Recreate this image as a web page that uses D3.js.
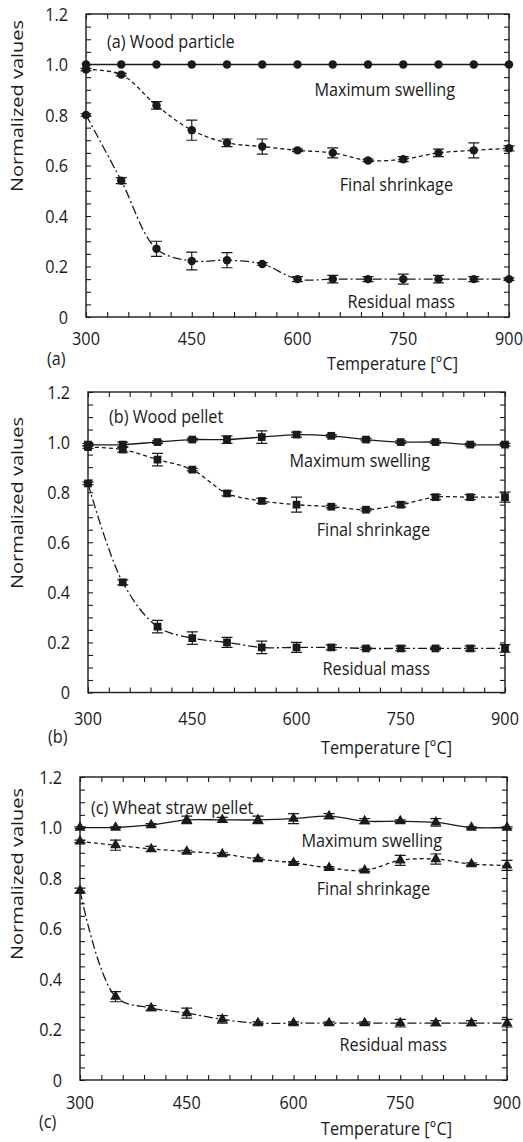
<!DOCTYPE html>
<meta charset="utf-8">
<style>
body { margin: 0; background: #fff; }
svg text { font-family: "Open Sans", sans-serif; fill: #1a1a1a; }
</style>
<body>
<div id="chart"></div>
<script src="https://d3js.org/d3.v7.min.js"></script>
<script>

// temperatures (°C)
const temps = [300, 350, 400, 450, 500, 550, 600, 650, 700, 750, 800, 850, 900];

// (a) wood particle
const swellA    = [1, 1, 1, 1, 1, 1, 1, 1, 1, 1, 1, 1, 1];
const swellAErr = [0, 0, 0, 0, 0, 0, 0, 0, 0, 0, 0, 0, 0];
const shrinkA    = [0.98, 0.96, 0.838, 0.74, 0.69, 0.675, 0.66, 0.65, 0.62, 0.625, 0.65, 0.66, 0.668];
const shrinkAErr = [0.005, 0.005, 0.015, 0.04, 0.015, 0.03, 0.005, 0.02, 0.005, 0.01, 0.015, 0.03, 0.01];
const residA    = [0.80, 0.54, 0.27, 0.222, 0.225, 0.21, 0.15, 0.15, 0.15, 0.15, 0.15, 0.15, 0.15];
const residAErr = [0.005, 0.012, 0.03, 0.035, 0.03, 0.005, 0.01, 0.015, 0.01, 0.02, 0.015, 0.01, 0.005];

// (b) wood pellet
const swellB    = [0.99, 0.99, 1.0, 1.01, 1.01, 1.02, 1.03, 1.025, 1.01, 1.0, 1.0, 0.99, 0.99];
const swellBErr = [0.005, 0.01, 0.005, 0.005, 0.015, 0.025, 0.01, 0.005, 0.005, 0.005, 0.005, 0.005, 0.005];
const shrinkB    = [0.98, 0.97, 0.93, 0.89, 0.795, 0.765, 0.75, 0.742, 0.73, 0.75, 0.78, 0.78, 0.78];
const shrinkBErr = [0.005, 0.01, 0.025, 0.005, 0.01, 0.01, 0.03, 0.005, 0.005, 0.01, 0.01, 0.01, 0.02];
const residB    = [0.835, 0.44, 0.263, 0.217, 0.2, 0.18, 0.18, 0.18, 0.176, 0.176, 0.176, 0.176, 0.176];
const residBErr = [0.005, 0.01, 0.025, 0.025, 0.02, 0.025, 0.02, 0.01, 0.005, 0.01, 0.005, 0.01, 0.015];

// (c) wheat straw pellet
const swellC    = [1.0, 1.0, 1.01, 1.03, 1.03, 1.03, 1.035, 1.045, 1.025, 1.025, 1.02, 1.0, 1.0];
const swellCErr = [0.003, 0.003, 0.005, 0.015, 0.01, 0.015, 0.02, 0.01, 0.01, 0.005, 0.015, 0.003, 0.003];
const shrinkC    = [0.945, 0.93, 0.915, 0.905, 0.895, 0.875, 0.86, 0.84, 0.83, 0.87, 0.875, 0.855, 0.85];
const shrinkCErr = [0.005, 0.02, 0.01, 0.005, 0.005, 0.005, 0.005, 0.005, 0.005, 0.02, 0.02, 0.005, 0.02];
const residC    = [0.75, 0.33, 0.285, 0.265, 0.24, 0.225, 0.225, 0.225, 0.225, 0.225, 0.225, 0.225, 0.225];
const residCErr = [0.01, 0.02, 0.01, 0.02, 0.015, 0.005, 0.005, 0.005, 0.005, 0.015, 0.01, 0.01, 0.015];

// tick labels
const xTickVals = [300, 450, 600, 750, 900];
const yTickVals = [0, 0.2, 0.4, 0.6, 0.8, 1.0, 1.2];
const yTickText = ["0", "0.2", "0.4", "0.6", "0.8", "1.0", "1.2"];
const seriesNames = ["Maximum swelling", "Final shrinkage", "Residual mass"];

const W = 523, H = 1142;
const ink = "#1a1a1a";
const squeeze = 0.9;   // the original figure is slightly narrowed

const svg = d3.select("#chart").append("svg")
  .attr("width", W).attr("height", H);

const panels = [
  { tag: "(a)", title: "(a) Wood particle", marker: "circle",
    box: {left: 86, right: 509, top: 14, bottom: 317},
    series: [[swellA, swellAErr], [shrinkA, shrinkAErr], [residA, residAErr]],
    labels: [[455, 89], [453, 184], [455, 301]],
    titlePos: [107, 41], yTitleY: 106, tickY: 338, tagPos: [47, 358], tempPos: [458, 363] },
  { tag: "(b)", title: "(b) Wood pellet", marker: "square",
    box: {left: 88, right: 505, top: 392, bottom: 692.5},
    series: [[swellB, swellBErr], [shrinkB, shrinkBErr], [residB, residBErr]],
    labels: [[430, 460], [430, 529], [430, 668]],
    titlePos: [109, 416], yTitleY: 503, tickY: 718, tagPos: [48, 736], tempPos: [452, 747] },
  { tag: "(c)", title: "(c) Wheat straw pellet", marker: "triangle",
    box: {left: 80, right: 507, top: 777, bottom: 1080},
    series: [[swellC, swellCErr], [shrinkC, shrinkCErr], [residC, residCErr]],
    labels: [[442, 840], [430, 888], [447, 1044]],
    titlePos: [91, 807], yTitleY: 874, tickY: 1102, tagPos: [39, 1121], tempPos: [452, 1128] }
];

const dashes = [null, "4,3", "9,3,2,3"];

function addText(g, str, x, y, anchor, size) {
  return g.append("text")
    .attr("transform", `translate(${x},${y}) scale(${squeeze},1)`)
    .attr("text-anchor", anchor)
    .attr("dominant-baseline", "central")
    .attr("font-size", size || 18)
    .text(str);
}

panels.forEach(p => {
  const b = p.box;
  const g = svg.append("g");

  const x = d3.scaleLinear().domain([300, 900]).range([b.left, b.right]);
  const y = d3.scaleLinear().domain([0, 1.2]).range([b.bottom, b.top]);

  // inward minor ticks on all four sides
  const xMinor = d3.range(300, 901, 30);
  const yMinor = d3.range(0, 1.2001, 0.05);
  const tk = 5;
  g.append("g").attr("transform", `translate(0,${b.bottom})`)
    .call(d3.axisBottom(x).tickValues(xMinor).tickSize(-tk).tickFormat(""));
  g.append("g").attr("transform", `translate(0,${b.top})`)
    .call(d3.axisTop(x).tickValues(xMinor).tickSize(-tk).tickFormat(""));
  g.append("g").attr("transform", `translate(${b.left},0)`)
    .call(d3.axisLeft(y).tickValues(yMinor).tickSize(-tk).tickFormat(""));
  g.append("g").attr("transform", `translate(${b.right},0)`)
    .call(d3.axisRight(y).tickValues(yMinor).tickSize(-tk).tickFormat(""));
  g.selectAll(".domain").remove();
  g.selectAll(".tick line").attr("stroke", ink).attr("stroke-width", 1.1);

  g.append("rect")
    .attr("x", b.left).attr("y", b.top)
    .attr("width", b.right - b.left).attr("height", b.bottom - b.top)
    .attr("fill", "none").attr("stroke", ink).attr("stroke-width", 1.4);

  // tick labels
  yTickVals.forEach((v, i) => addText(g, yTickText[i], b.left - 18, y(v), "end"));
  xTickVals.forEach(v => addText(g, v, x(v), p.tickY, "middle"));

  // axis titles and tags
  g.append("text")
    .attr("transform", `translate(16,${p.yTitleY}) scale(0.85,1) rotate(-90)`)
    .attr("text-anchor", "middle")
    .attr("dominant-baseline", "central")
    .attr("font-size", 20)
    .text("Normalized values");
  addText(g, "Temperature [\u00B0C]", p.tempPos[0], p.tempPos[1], "end");
  addText(g, p.tag, p.tagPos[0], p.tagPos[1], "start");
  addText(g, p.title, p.titlePos[0], p.titlePos[1], "start");

  const line = d3.line()
    .x((d, i) => x(temps[i]))
    .y(d => y(d))
    .curve(d3.curveCatmullRom.alpha(0.5));

  p.series.forEach(([vals, errs], si) => {
    const sg = g.append("g");
    sg.append("path")
      .attr("d", line(vals))
      .attr("fill", "none")
      .attr("stroke", ink)
      .attr("stroke-width", 1.3)
      .attr("stroke-dasharray", dashes[si]);

    // error bars
    const cap = 5.5;
    vals.forEach((v, i) => {
      if (!errs[i]) return;
      const cx = x(temps[i]);
      const y1 = y(v + errs[i]), y2 = y(v - errs[i]);
      sg.append("path")
        .attr("d", `M${cx},${y1}V${y2}M${cx - cap},${y1}H${cx + cap}M${cx - cap},${y2}H${cx + cap}`)
        .attr("stroke", ink).attr("stroke-width", 1.2).attr("fill", "none");
    });

    // markers
    const sym = p.marker === "circle" ? d3.symbolCircle
      : p.marker === "square" ? d3.symbolSquare : d3.symbolTriangle;
    const size = p.marker === "circle" ? 56 : p.marker === "square" ? 60 : 52;
    sg.selectAll("path.m")
      .data(vals)
      .join("path")
      .attr("class", "m")
      .attr("transform", (d, i) => `translate(${x(temps[i])},${y(d)})`)
      .attr("d", d3.symbol().type(sym).size(size))
      .attr("fill", ink);

    addText(g, seriesNames[si], p.labels[si][0], p.labels[si][1], "end");
  });
});

</script>
</body>
